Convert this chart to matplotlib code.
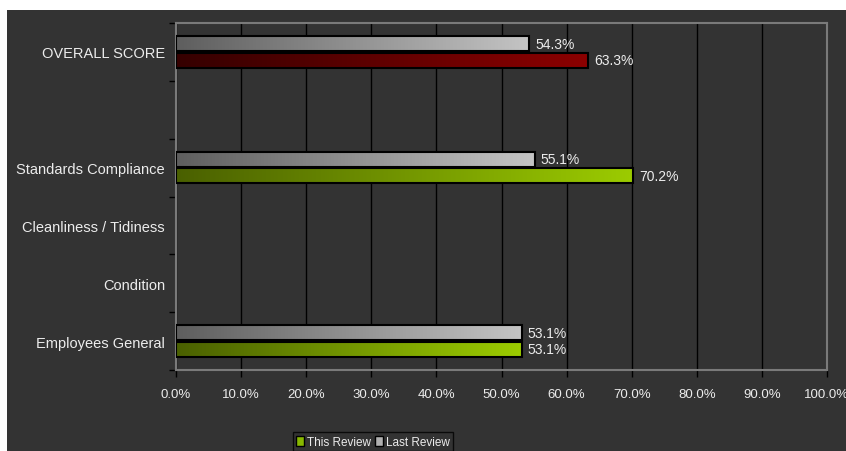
import numpy as np
import matplotlib.pyplot as plt
from matplotlib.colors import LinearSegmentedColormap
from matplotlib.patches import Rectangle

categories = ['OVERALL SCORE', '', 'Standards Compliance', 'Cleanliness / Tidiness',
              'Condition', 'Employees General']
this_review = [63.3, None, 70.2, None, None, 53.1]
last_review = [54.3, None, 55.1, None, None, 53.1]
x_ticks = [0, 10, 20, 30, 40, 50, 60, 70, 80, 90, 100]

plt.rcParams['font.family'] = ['Liberation Sans', 'DejaVu Sans']
txt = '#ececec'
bg = '#333333'

gray_cm = LinearSegmentedColormap.from_list('g', ['#5e5e5e', '#c4c4c4'])
green_cm = LinearSegmentedColormap.from_list('gr', ['#4a6000', '#9ccc00'])
red_cm = LinearSegmentedColormap.from_list('r', ['#350000', '#8c0000'])

fig = plt.figure(figsize=(8.46, 4.52), dpi=100, facecolor='white')
fig.patches.append(Rectangle((7/846, 0), 1, 1 - 11/452, transform=fig.transFigure,
                             facecolor=bg, edgecolor='none', zorder=-10))
ax = fig.add_axes([176/846, 1 - 371/452, (827 - 176)/846, (371 - 24)/452])
ax.set_facecolor(bg)

grad = np.linspace(0, 1, 256).reshape(1, -1)
h = 0.26
off = 0.145


def gbar(v, yc, cmap):
    y0, y1 = yc - h/2, yc + h/2
    ax.imshow(grad, extent=[0, v, y1, y0], aspect='auto', cmap=cmap, zorder=3)
    ax.add_patch(Rectangle((0, y0), v, h, facecolor='none', edgecolor='black', lw=1.5, zorder=4))
    ax.text(v + 0.9, yc, '%.1f%%' % v, color=txt, fontsize=10, va='center', ha='left', zorder=5)


for i, (t, l) in enumerate(zip(this_review, last_review)):
    if l is not None:
        gbar(l, i - off, gray_cm)
    if t is not None:
        gbar(t, i + off, red_cm if i == 0 else green_cm)

ax.set_xlim(0, 100)
ax.set_ylim(len(categories) - 0.5, -0.5)
ax.set_xticks(x_ticks)
ax.set_xticklabels(['%.1f%%' % x for x in x_ticks], color=txt, fontsize=9.5)
ax.set_yticks(range(len(categories)))
ax.set_yticklabels(categories, color=txt, fontsize=10.5)
ax.tick_params(axis='y', length=0, pad=8)
ax.set_yticks(np.arange(-0.5, len(categories), 1), minor=True)
ax.tick_params(axis='y', which='minor', length=5, color='black', width=1)
ax.tick_params(axis='x', length=5, color='black', width=1, pad=8)
ax.grid(axis='x', color='black', lw=1, zorder=1)
ax.set_axisbelow(True)
for s in ax.spines.values():
    s.set_color('#7a7a7a')
    s.set_linewidth(1.5)

handles = [Rectangle((0, 0), 1, 1, facecolor='#88b800', edgecolor='black'),
           Rectangle((0, 0), 1, 1, facecolor='#b0b0b0', edgecolor='black')]
leg = fig.legend(handles, ['This Review', 'Last Review'], loc='upper center',
                 bbox_to_anchor=(373/846, 1 - 433/452), ncol=2, frameon=True,
                 facecolor=bg, edgecolor='black', fancybox=False, fontsize=8.5,
                 handlelength=0.65, handleheight=1.0, handletextpad=0.3, columnspacing=0.3,
                 borderpad=0.3, borderaxespad=0)
for t in leg.get_texts():
    t.set_color(txt)

fig.savefig('out.png', dpi=100, facecolor='white')
